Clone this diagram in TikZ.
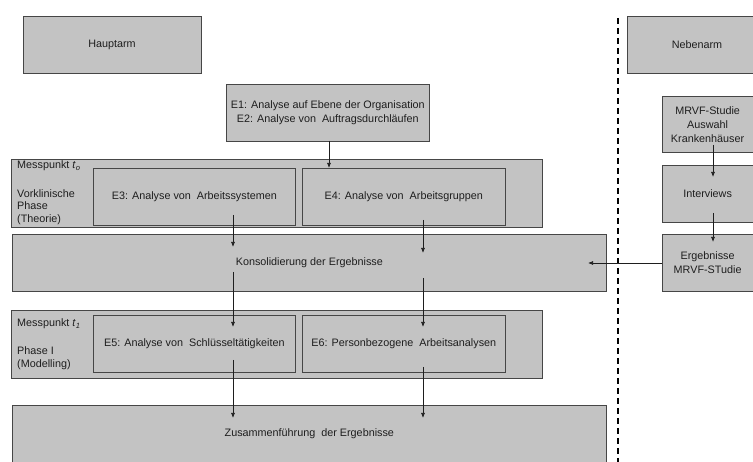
\documentclass[tikz,border=0pt]{standalone}
\usepackage{fontspec}
\setmainfont{Liberation Sans}
\usetikzlibrary{arrows.meta}
\definecolor{boxgray}{RGB}{195,195,195}
\definecolor{edgegray}{RGB}{70,70,70}
\definecolor{inkgray}{RGB}{30,30,30}
\begin{document}
\begin{tikzpicture}[x=1pt,y=-1pt,
  every node/.style={font=\fontsize{10.8}{14}\selectfont, text=inkgray},
  box/.style={draw=edgegray, fill=boxgray, line width=0.7pt, inner sep=0pt,
    anchor=north west, align=center},
  lbl/.style={anchor=west, align=left, inner sep=0pt},
  flow/.style={draw=inkgray, line width=0.7pt, -{Latex[length=5pt,width=4pt]}},
  divider/.style={draw=black, line width=1.6pt, dash pattern=on 6.5pt off 3.5pt}]
  \useasboundingbox (0,0) rectangle (753,462);

  % main arm
  \node[box, minimum width=178pt, minimum height=57pt] (haupt) at (23,16) {};
  \node at (112,45) {Hauptarm};
  \node[box, minimum width=203pt, minimum height=57pt] (e12) at (226,84)
    {E1: Analyse auf Ebene der Organisation\\E2: Analyse von~ Auftragsdurchläufen};

  % measuring point t0
  \node[box, minimum width=531pt, minimum height=68pt] (tnull) at (11,159) {};
  \node[box, minimum width=202pt, minimum height=57pt] (e3) at (93,168)
    {E3: Analyse von~ Arbeitssystemen};
  \node[box, minimum width=203pt, minimum height=57pt] (e4) at (302,168)
    {E4: Analyse von~ Arbeitsgruppen};
  \node[lbl] (mpa) at (17,166) {Messpunkt \textit{t}\textsubscript{\textit{o}}};
  \node[lbl, font=\fontsize{10.8}{12.5}\selectfont] (pha) at (17,207)
    {Vorklinische\\Phase\\(Theorie)};

  \node[box, minimum width=594pt, minimum height=57pt] (kons) at (12,234)
    {Konsolidierung der Ergebnisse};

  % measuring point t1
  \node[box, minimum width=531pt, minimum height=68pt] (teins) at (11,310) {};
  \node[box, minimum width=202pt, minimum height=57pt] (e5) at (93,315)
    {E5: Analyse von~ Schlüsseltätigkeiten};
  \node[box, minimum width=203pt, minimum height=57pt] (e6) at (302,315)
    {E6: Personbezogene~ Arbeitsanalysen};
  \node[lbl] (mpb) at (17,324) {Messpunkt \textit{t}\textsubscript{\textit{1}}};
  \node[lbl, font=\fontsize{10.8}{12.5}\selectfont] (phb) at (17,358)
    {Phase I\\(Modelling)};

  \node[box, minimum width=594pt, minimum height=57pt] (zus) at (12,405)
    {Zusammenführung~ der Ergebnisse};

  % side arm
  \node[box, minimum width=125.5pt, minimum height=57pt] (neben) at (627,16) {};
  \node at (697,45) {Nebenarm};
  \node[box, minimum width=90.5pt, minimum height=56pt] (mrvf) at (662,96)
    {MRVF-Studie\\Auswahl\\Krankenhäuser};
  \node[box, minimum width=90.5pt, minimum height=57pt] (intv) at (662,165)
    {Interviews};
  \node[box, minimum width=90.5pt, minimum height=57pt] (erg) at (662,234)
    {Ergebnisse\\MRVF-STudie};

  % separator between the two arms
  \coordinate (sepT) at (618,18);
  \coordinate (sepB) at (618,462);
  \draw[divider] (sepT) -- (sepB);

  % connector end points inside the boxes
  \coordinate (e3s) at (233,215);   \coordinate (k1) at (233,247);
  \coordinate (e4s) at (423,220);   \coordinate (k2) at (423,253);
  \coordinate (k3) at (233,272);    \coordinate (e5n) at (233,327);
  \coordinate (k4) at (423,278);    \coordinate (e6n) at (423,327);
  \coordinate (e5s) at (233,360);   \coordinate (z1) at (233,418);
  \coordinate (e6s) at (423,367);   \coordinate (z2) at (423,418);
  \coordinate (e12s) at (329,141);  \coordinate (e4n) at (329,168);
  \coordinate (mrvfs) at (713,145); \coordinate (intvn) at (713,177);
  \coordinate (intvs) at (713,213); \coordinate (ergn) at (713,242);
  \coordinate (ergw) at (662,263);  \coordinate (k5) at (588,263);

  \draw[flow] (e12s) -- (e4n);
  \draw[flow] (e3s) -- (k1);
  \draw[flow] (e4s) -- (k2);
  \draw[flow] (k3) -- (e5n);
  \draw[flow] (k4) -- (e6n);
  \draw[flow] (e5s) -- (z1);
  \draw[flow] (e6s) -- (z2);
  \draw[flow] (mrvfs) -- (intvn);
  \draw[flow] (intvs) -- (ergn);
  \draw[flow] (ergw) -- (k5);
\end{tikzpicture}
\end{document}
